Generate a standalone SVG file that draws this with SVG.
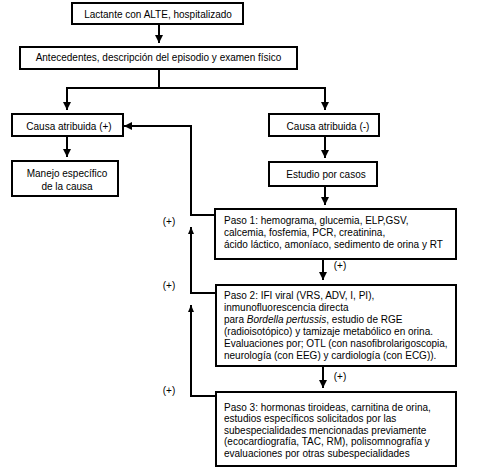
<svg xmlns="http://www.w3.org/2000/svg" width="479" height="473" viewBox="0 0 479 473">
<defs>
<marker id="ah" markerUnits="userSpaceOnUse" markerWidth="8" markerHeight="8" viewBox="0 0 8 8" refX="8" refY="4" orient="auto">
<path d="M0,0 L8,4 L0,8 Z" fill="#000"/>
</marker>
<marker id="ahs" markerUnits="userSpaceOnUse" markerWidth="7" markerHeight="6" viewBox="0 0 7 6" refX="7" refY="3" orient="auto">
<path d="M0,0 L7,3 L0,6 Z" fill="#000"/>
</marker>
</defs>
<style>
rect.b{fill:#fff;stroke:#000;stroke-width:2}
text{font-family:"Liberation Sans",Arial,sans-serif;font-size:10px;fill:#000}
.c{text-anchor:middle}
.e{fill:none;stroke:#000;stroke-width:2}
</style>
<rect width="479" height="473" fill="#fff"/>
<g id="connectors">
<path class="e" d="M159,24 V43" marker-end="url(#ah)"/>
<path class="e" d="M159,69 V88"/>
<path class="e" d="M67,88 H325"/>
<path class="e" d="M67,87 V110" marker-end="url(#ah)"/>
<path class="e" d="M325,87 V110" marker-end="url(#ah)"/>
<path class="e" d="M67,136 V157" marker-end="url(#ah)"/>
<path class="e" d="M325,136 V158" marker-end="url(#ah)"/>
<path class="e" d="M325,186 V205" marker-end="url(#ah)"/>
<path class="e" d="M215,215 H191 V126 H124" marker-end="url(#ah)"/>
<path class="e" d="M216,293 H191 V227" marker-end="url(#ahs)"/>
<path class="e" d="M216,396 H191 V305" marker-end="url(#ahs)"/>
<path class="e" d="M323,259 V280" marker-end="url(#ah)"/>
<path class="e" d="M323,366 V388" marker-end="url(#ah)"/>
<text x="169" y="225" class="c">(+)</text>
<text x="169" y="289" class="c">(+)</text>
<text x="169" y="394" class="c">(+)</text>
<text x="340" y="269" class="c">(+)</text>
<text x="340" y="380" class="c">(+)</text>
</g>
<g id="n1">
<rect class="b" x="72" y="3" width="171" height="21"/>
<text x="158" y="18" class="c">Lactante con ALTE, hospitalizado</text>
</g>
<g id="n2">
<rect class="b" x="20" y="47" width="277" height="22"/>
<text x="158.5" y="60.5" class="c">Antecedentes, descripción del episodio y examen físico</text>
</g>
<g id="n3">
<rect class="b" x="12" y="114" width="111" height="22"/>
<text x="69" y="129.5" class="c">Causa atribuida (+)</text>
</g>
<g id="n4">
<rect class="b" x="12" y="161" width="106" height="35"/>
<text x="67" y="176.5" class="c">Manejo específico</text>
<text x="67" y="189.5" class="c">de la causa</text>
</g>
<g id="n5">
<rect class="b" x="269" y="114" width="110" height="22"/>
<text x="328" y="129.5" class="c">Causa atribuida (-)</text>
</g>
<g id="n6">
<rect class="b" x="269" y="162" width="108" height="24"/>
<text x="326" y="177.5" class="c">Estudio por casos</text>
</g>
<g id="n7">
<rect class="b" x="215" y="209" width="241" height="50"/>
<text x="224" y="224">Paso 1: hemograma, glucemia, ELP,GSV,</text>
<text x="224" y="236">calcemia, fosfemia, PCR, creatinina,</text>
<text x="224" y="248">ácido láctico, amoníaco, sedimento de orina y RT</text>
</g>
<g id="n8">
<rect class="b" x="216" y="285" width="240" height="81"/>
<text x="224" y="299">Paso 2: IFI viral (VRS, ADV, I, PI),</text>
<text x="224" y="311">inmunofluorescencia directa</text>
<text x="224" y="323">para <tspan font-style="italic">Bordella pertussis</tspan>, estudio de RGE</text>
<text x="224" y="334.5">(radioisotópico) y tamizaje metabólico en orina.</text>
<text x="224" y="346.5">Evaluaciones por; OTL (con nasofibrolarigoscopia,</text>
<text x="224" y="358.5">neurología (con EEG) y cardiología (con ECG)).</text>
</g>
<g id="n9">
<rect class="b" x="216" y="392" width="240" height="74"/>
<text x="224" y="410.5">Paso 3: hormonas tiroideas, carnitina de orina,</text>
<text x="224" y="422">estudios específicos solicitados por las</text>
<text x="224" y="433.5">subespecialidades mencionadas previamente</text>
<text x="224" y="445">(ecocardiografía, TAC, RM), polisomnografía y</text>
<text x="224" y="456.5">evaluaciones por otras subespecialidades</text>
</g>
</svg>
